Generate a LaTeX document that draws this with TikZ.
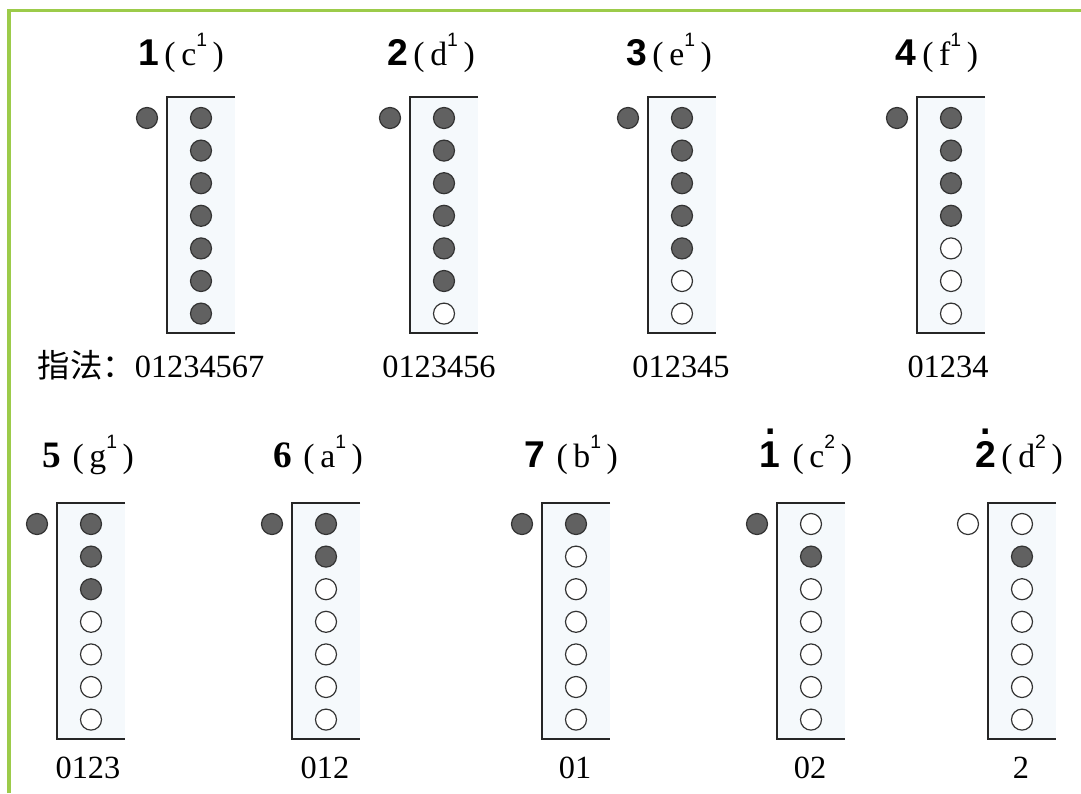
\documentclass[tikz,border=0pt]{standalone}
\usepackage{fontspec}
\setmainfont{Liberation Serif}
\setsansfont{Liberation Sans}
\newfontfamily\cjk{Noto Sans CJK SC}
\usetikzlibrary{positioning}
\definecolor{leaf}{HTML}{9CCB4A}
\definecolor{pane}{HTML}{F5F9FC}
\definecolor{ink}{HTML}{333333}
\newcommand{\topdot}[1]{{\ooalign{#1\cr\hidewidth\raisebox{0.86em}{.}\hidewidth\cr}}}
\newcommand{\note}[3]{{\fontsize{10.6}{12}\selectfont#1}\,(\,\rmfamily\mdseries #2\raisebox{0.55em}{\fontsize{5.5}{6}\selectfont\sffamily #3}\,)}

\begin{document}
\begin{tikzpicture}[
  x=0.01cm, y=-0.01cm,
  border/.style={draw=leaf, line width=0.03cm},
  frame/.style={draw=black!85, line width=0.02cm},
  hole/.style={circle, draw=ink, line width=0.012cm, minimum size=0.21cm, inner sep=0pt},
  shut/.style={hole, fill=black!62},
  open/.style={hole, fill=white},
  title/.style={anchor=base, font=\fontsize{9.6}{11}\selectfont},
  fing/.style={anchor=base, font=\fontsize{9.2}{11}\selectfont},
]
\useasboundingbox (0,0) rectangle (1081,793);
\draw[border] (9,793) -- (9,10) -- (1081,10);

\foreach \tx/\ty/\th/\n/\ex [count=\c] in {147/118/1/7/0, 390/118/1/6/0, 628/118/1/5/0, 897/118/1/4/0,
    37/524/1/3/0, 272/524/1/2/0, 522/524/1/1/0, 757/524/1/0/2, 968/524/0/0/2}{
  \fill[pane] (\tx+20,\ty-21) rectangle (\tx+88,\ty+215);
  \draw[frame] (\tx+88,\ty-21) -- (\tx+20,\ty-21) -- (\tx+20,\ty+215) -- (\tx+88,\ty+215);
  \ifnum\th=1 \def\hs{shut}\else\def\hs{open}\fi
  \node[\hs] (th\c) at (\tx,\ty) {};
  \foreach \k in {1,...,7}{
    \pgfmathtruncatemacro\on{or(\k<=\n,\k==\ex)}
    \ifnum\on=1 \def\hs{shut}\else\def\hs{open}\fi
    \node[\hs] (h\c\k) at (\tx+54,\ty+32.6*\k-32.6) {};
  }
}

\node[title] (t1) at (181,65) {\note{\sffamily\bfseries 1}{c}{1}};
\node[title] (t2) at (431,65) {\note{\sffamily\bfseries 2}{d}{1}};
\node[title] (t3) at (669,65) {\note{\sffamily\bfseries 3}{e}{1}};
\node[title] (t4) at (937,65) {\note{\sffamily\bfseries 4}{f}{1}};
\node[title] (t5) at (88,467) {\note{\rmfamily\bfseries 5\,}{g}{1}};
\node[title] (t6) at (318,467) {\note{\rmfamily\bfseries 6\,}{a}{1}};
\node[title] (t7) at (571,467) {\note{\sffamily\bfseries 7\,}{b}{1}};
\node[title] (t8) at (806,467) {\note{\sffamily\bfseries\topdot{1}\,}{c}{2}};
\node[title] (t9) at (1019,467) {\note{\sffamily\bfseries\topdot{2}}{d}{2}};

\node[fing] (f1) at (151,377) {{\cjk 指法：}01234567};
\node[fing] (f2) at (439,377) {0123456};
\node[fing] (f3) at (681,377) {012345};
\node[fing] (f4) at (948,377) {01234};
\node[fing] (f5) at (88,778) {0123};
\node[fing] (f6) at (325,778) {012};
\node[fing] (f7) at (575,778) {01};
\node[fing] (f8) at (810,778) {02};
\node[fing] (f9) at (1021,778) {2};
\end{tikzpicture}
\end{document}
